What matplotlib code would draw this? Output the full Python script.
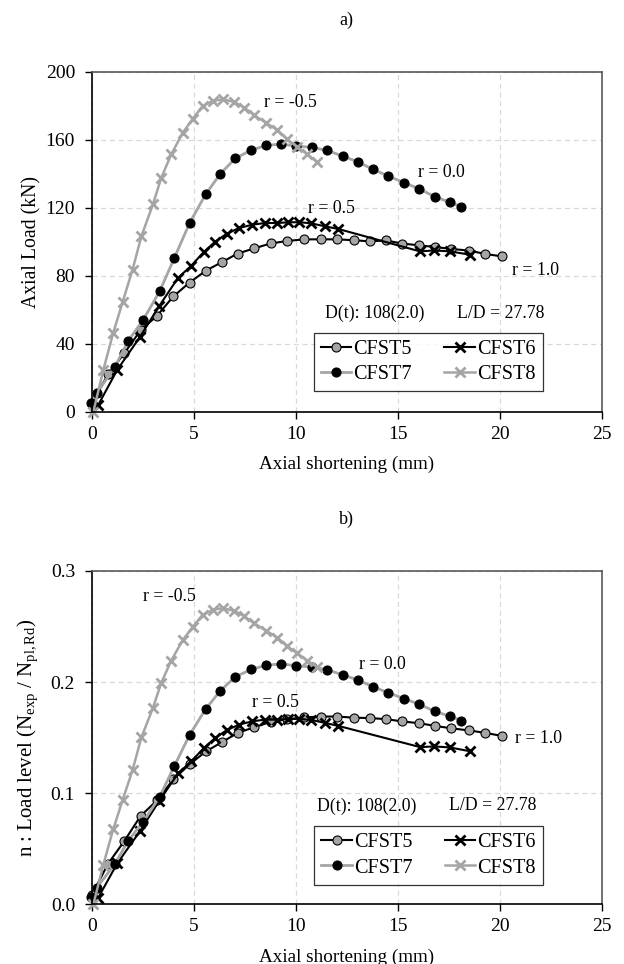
import numpy as np
import matplotlib
matplotlib.use("Agg")
import matplotlib.pyplot as plt

plt.rcParams['font.family'] = ['Liberation Serif', 'DejaVu Serif']
plt.rcParams['mathtext.fontset'] = 'custom'
plt.rcParams['mathtext.rm'] = 'Liberation Serif'
plt.rcParams['mathtext.it'] = 'Liberation Serif:italic'

# ---- data ----
# CFST5, r = 1.0
x5 = [0.0, 0.8, 1.6, 2.4, 3.2, 4.0, 4.8, 5.6, 6.4, 7.15, 7.97, 8.78, 9.57, 10.4, 11.22,
      12.03, 12.84, 13.64, 14.42, 15.23, 16.05, 16.83, 17.6, 18.49, 19.3, 20.1]
load5 = [5, 22, 34.4, 48, 56.4, 67.8, 76, 83, 88.1, 93, 96.1, 99, 100.4, 101.4, 101.4,
         101.4, 100.9, 100.2, 100.8, 98.9, 97.9, 96.9, 95.8, 94.8, 92.8, 91.4]
n5 = [0.0083, 0.0365, 0.0570, 0.0796, 0.0935, 0.1124, 0.1260, 0.1376, 0.1461, 0.1542,
      0.1594, 0.1642, 0.1665, 0.1682, 0.1690, 0.1690, 0.1680, 0.1676, 0.1667, 0.1646,
      0.1630, 0.1606, 0.1585, 0.1565, 0.1543, 0.1516]

# CFST6, r = 0.5
x6 = [0.32, 1.25, 2.36, 3.3, 4.23, 4.88, 5.5, 6.05, 6.62, 7.23, 7.88, 8.49, 9.07, 9.62,
      10.18, 10.77, 11.46, 12.09, 16.1, 16.8, 17.56, 18.54]
load6 = [4, 24.6, 43.9, 62, 78.7, 85.9, 94, 100, 104.7, 108.1, 110, 111, 111, 111.4,
         111.5, 110.8, 109, 107.5, 94.3, 94.9, 94.3, 92.4]
n6 = [0.0060, 0.0368, 0.0657, 0.0928, 0.1178, 0.1286, 0.1407, 0.1497, 0.1567, 0.1618,
      0.1647, 0.1662, 0.1662, 0.1668, 0.1669, 0.1659, 0.1632, 0.1606, 0.1415, 0.1421,
      0.1412, 0.1378]

# CFST7, r = 0.0
x7 = [-0.05, 0.24, 1.14, 1.79, 2.52, 3.33, 4.05, 4.8, 5.58, 6.31, 7.04, 7.82, 8.57, 9.28,
      10.03, 10.81, 11.54, 12.3, 13.05, 13.8, 14.55, 15.33, 16.06, 16.83, 17.58, 18.13]
load7 = [5, 10.8, 26.5, 41.7, 54, 70.8, 90.4, 111, 127.8, 140, 149, 153.9, 156.7, 157.4,
         156.3, 155.5, 153.7, 150.4, 147, 142.5, 138.6, 134.7, 131.1, 126.4, 123.2, 120.5]
n7 = [0.0069, 0.0148, 0.0364, 0.0573, 0.0742, 0.0968, 0.1244, 0.1525, 0.1755, 0.1923,
      0.2047, 0.2114, 0.2152, 0.2164, 0.2147, 0.2136, 0.2111, 0.2066, 0.2019, 0.1957,
      0.1904, 0.1850, 0.1801, 0.1736, 0.1692, 0.1654]

# CFST8, r = -0.5
x8 = [0.08, 0.57, 1.05, 1.51, 2.0, 2.44, 3.0, 3.41, 3.9, 4.47, 4.96, 5.44, 5.93, 6.42,
      6.99, 7.48, 7.97, 8.54, 9.1, 9.59, 10.08, 10.57, 11.05]
load8 = [0, 24.6, 46.2, 64.3, 83.5, 103.4, 121.9, 137.6, 151.4, 164.2, 172.4, 179.8,
         182.8, 183.8, 182.2, 178.9, 174.4, 170, 165.7, 160.2, 155.9, 151.4, 146.8]
n8 = [0.0, 0.0357, 0.0674, 0.0935, 0.1207, 0.1505, 0.1766, 0.1994, 0.2194, 0.2380,
      0.2499, 0.2606, 0.2649, 0.2666, 0.2641, 0.2593, 0.2528, 0.2464, 0.2401, 0.2322,
      0.2259, 0.2194, 0.2135]

names = ['CFST5', 'CFST6', 'CFST7', 'CFST8']
r_labels = ['r = 1.0', 'r = 0.5', 'r = 0.0', 'r = -0.5']

GRAY = '#a5a5a5'
styles = [
    dict(color='black', lw=1.5, marker='o', ms=6.5, mfc=GRAY, mec='black', mew=0.8),
    dict(color='black', lw=1.5, marker='x', ms=6.5, mfc='black', mec='black', mew=2.0),
    dict(color=GRAY, lw=2.0, marker='o', ms=6.5, mfc='black', mec='black', mew=0.8),
    dict(color=GRAY, lw=1.8, marker='x', ms=6.5, mfc=GRAY, mec=GRAY, mew=2.0),
]

TICK_FS = 14
LABEL_FS = 13.8
NOTE_FS = 12.8
LEG_FS = 14.6

fig = plt.figure(figsize=(6.24, 9.64), dpi=100)
ax1 = fig.add_axes([0.147, 0.5729, 0.817, 0.3527])
ax2 = fig.add_axes([0.147, 0.0619, 0.817, 0.3458])


def style_axes(ax):
    ax.set_xlim(0, 25)
    ax.set_xticks([0, 5, 10, 15, 20, 25])
    ax.grid(True, color='#d9d9d9', ls=(0, (4, 3)), lw=0.9)
    ax.set_axisbelow(True)
    for s in ['top', 'right']:
        ax.spines[s].set_color('#595959')
        ax.spines[s].set_linewidth(1.2)
    for s in ['left', 'bottom']:
        ax.spines[s].set_color('black')
        ax.spines[s].set_linewidth(1.2)
    ax.tick_params(direction='out', length=5, width=1, labelsize=TICK_FS)
    ax.tick_params(axis='x', pad=5)
    ax.tick_params(axis='y', pad=7)
    ax.set_xlabel('Axial shortening (mm)', fontsize=LABEL_FS, labelpad=9.5)


def add_legend(ax, lines, anchor):
    # row-wise order like the reference: CFST5 CFST6 / CFST7 CFST8
    order = [0, 2, 1, 3]
    leg = ax.legend([lines[i] for i in order], [names[i] for i in order], ncol=2,
                    loc='center', bbox_to_anchor=anchor, fontsize=LEG_FS,
                    frameon=True, fancybox=False, edgecolor='black', handlelength=1.5,
                    handletextpad=0.1, columnspacing=1.6, borderpad=0.35,
                    labelspacing=0.3, borderaxespad=0)
    leg.get_frame().set_linewidth(0.9)


# ---- a) ----
series_top = [(x5, load5), (x6, load6), (x7, load7), (x8, load8)]
lines1 = []
for (xs, ys), nm, st in zip(series_top, names, styles):
    ln, = ax1.plot(xs, ys, label=nm, clip_on=False, **st)
    lines1.append(ln)
style_axes(ax1)
ax1.set_ylim(0, 200)
ax1.set_yticks([0, 40, 80, 120, 160, 200])
ax1.set_ylabel('Axial Load (kN)', fontsize=14.2, labelpad=3)
ax1.set_title('a)', fontsize=13, pad=34)

for txt, (tx, ty) in zip(r_labels, [(20.6, 83), (10.6, 119.5), (16.0, 140.6), (8.45, 182)]):
    ax1.text(tx, ty, txt, fontsize=NOTE_FS, va='center', ha='left')
ax1.text(11.45, 57.6, 'D(t): 108(2.0)', fontsize=NOTE_FS, va='center', ha='left')
ax1.text(17.9, 57.6, 'L/D = 27.78', fontsize=NOTE_FS, va='center', ha='left')
add_legend(ax1, lines1, (0.66, 0.146))

# ---- b) ----
series_bot = [(x5, n5), (x6, n6), (x7, n7), (x8, n8)]
lines2 = []
for (xs, ys), nm, st in zip(series_bot, names, styles):
    ln, = ax2.plot(xs, ys, label=nm, clip_on=False, **st)
    lines2.append(ln)
style_axes(ax2)
ax2.set_ylim(0, 0.3)
ax2.set_yticks([0.0, 0.1, 0.2, 0.3])
ax2.set_yticklabels(['0.0', '0.1', '0.2', '0.3'])
ax2.set_ylabel(r'n : Load level (N$_{\mathrm{exp}}$ / N$_{\mathrm{pl,Rd}}$)',
               fontsize=15, labelpad=8)
ax2.set_title('b)', fontsize=13, pad=34)

for txt, (tx, ty) in zip(r_labels, [(20.76, 0.1495), (7.88, 0.1816), (13.09, 0.2156), (2.52, 0.2766)]):
    ax2.text(tx, ty, txt, fontsize=NOTE_FS, va='center', ha='left')
ax2.text(11.05, 0.0886, 'D(t): 108(2.0)', fontsize=NOTE_FS, va='center', ha='left')
ax2.text(17.5, 0.0886, 'L/D = 27.78', fontsize=NOTE_FS, va='center', ha='left')
add_legend(ax2, lines2, (0.661, 0.147))

fig.savefig('out.png', dpi=100)
